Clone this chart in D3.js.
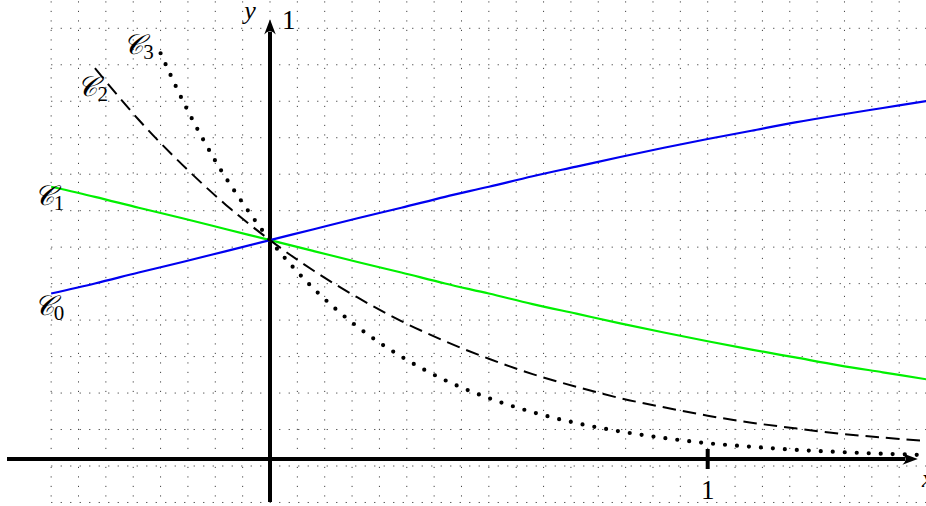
<!DOCTYPE html>
<html lang="en"><head><meta charset="utf-8">
<script src="https://cdn.jsdelivr.net/npm/d3@7"></script>
<style>
  body { margin: 0; background: #fff; }
  text { font-family: "Liberation Serif", "DejaVu Serif", serif; }
</style>
</head>
<body>
<script>
// curves (x, y in axis units)
var x01 = [-0.5,-0.4,-0.3,-0.2,-0.1,0,0.1,0.2,0.3,0.4,0.5,0.6,0.7,0.8,0.9,1.0,1.1,1.2,1.3,1.4,1.5];
var c0 = [0.378,0.401,0.426,0.450,0.475,0.5,0.525,0.550,0.574,0.599,0.622,0.646,0.668,0.690,0.711,0.731,0.750,0.769,0.786,0.802,0.818];
var c1 = [0.622,0.599,0.574,0.550,0.525,0.5,0.475,0.450,0.426,0.401,0.378,0.354,0.332,0.310,0.289,0.269,0.250,0.232,0.214,0.198,0.182];
var x2 = [-0.4,-0.3,-0.2,-0.1,0,0.1,0.2,0.3,0.4,0.5,0.6,0.7,0.8,0.9,1.0,1.1,1.2,1.3,1.4,1.5];
var c2 = [0.893,0.775,0.672,0.580,0.5,0.430,0.369,0.315,0.269,0.229,0.194,0.165,0.139,0.118,0.099,0.083,0.070,0.058,0.049,0.041];
var x3 = [-0.25,-0.2,-0.15,-0.1,0,0.1,0.2,0.3,0.4,0.5,0.6,0.7,0.8,0.9,1.0,1.1,1.2,1.3,1.4,1.5];
var c3 = [0.927,0.820,0.725,0.641,0.5,0.389,0.302,0.234,0.180,0.139,0.107,0.082,0.063,0.048,0.036,0.028,0.021,0.016,0.012,0.009];

var labels = [
  {name: "3", x: -0.335, y: 0.925},
  {name: "2", x: -0.44, y: 0.83},
  {name: "1", x: -0.54, y: 0.58},
  {name: "0", x: -0.54, y: 0.33}
];

var width = 926, height = 506;

var x = d3.scaleLinear().domain([0, 1]).range([270, 707.7]);
var y = d3.scaleLinear().domain([0, 1]).range([459, 21.3]);

var svg = d3.select("body").append("svg")
    .attr("width", width)
    .attr("height", height);

// dotted grid
var gx = d3.range(-8, 25).map(k => k / 16);
var gy = d3.range(0, 14).map(k => -0.016 + k / 12);
var grid = svg.append("g")
    .attr("stroke", "#444")
    .attr("stroke-width", 1)
    .attr("stroke-dasharray", "1.2,8.3");
grid.selectAll("line.v").data(gx).enter().append("line")
    .attr("x1", d => x(d)).attr("x2", d => x(d))
    .attr("y1", y(gy[gy.length - 1])).attr("y2", y(gy[0]) + 36.5);
grid.selectAll("line.h").data(gy.concat([gy[0] - 1 / 12])).enter().append("line")
    .attr("y1", d => y(d)).attr("y2", d => y(d))
    .attr("x1", x(gx[0])).attr("x2", width);

var defs = svg.append("defs");
defs.append("marker")
    .attr("id", "arr")
    .attr("viewBox", "0 0 12 10")
    .attr("refX", 2).attr("refY", 5)
    .attr("markerWidth", 4.3).attr("markerHeight", 3.2)
    .attr("markerUnits", "strokeWidth")
    .attr("orient", "auto")
    .append("path")
    .attr("d", "M0,0.5 Q5,5 0,9.5 L12,5 Z")
    .attr("fill", "#000");

// axes
svg.append("line")
    .attr("x1", 7).attr("x2", 905)
    .attr("y1", y(0)).attr("y2", y(0))
    .attr("stroke", "#000").attr("stroke-width", 4)
    .attr("marker-end", "url(#arr)");
svg.append("line")
    .attr("x1", x(0)).attr("x2", x(0))
    .attr("y1", 502).attr("y2", 32)
    .attr("stroke", "#000").attr("stroke-width", 4)
    .attr("marker-end", "url(#arr)");
svg.append("line")
    .attr("x1", x(1)).attr("x2", x(1))
    .attr("y1", y(0) - 10).attr("y2", y(0) + 10)
    .attr("stroke", "#000").attr("stroke-width", 4);

svg.append("text").attr("x", x(1)).attr("y", 499)
    .attr("text-anchor", "middle").attr("font-size", 27).text("1");
svg.append("text").attr("x", x(0) + 12).attr("y", 29)
    .attr("font-size", 27).text("1");
svg.append("text").attr("x", x(0) - 20).attr("y", 19)
    .attr("text-anchor", "middle").attr("font-size", 26)
    .attr("font-style", "italic").text("y");
svg.append("text").attr("x", 922).attr("y", 487)
    .attr("font-size", 25).attr("font-style", "italic").text("x");

// curves
var line = d3.line().curve(d3.curveCatmullRom)
    .x(d => x(d[0])).y(d => y(d[1]));
function pts(xs, ys) { return xs.map((v, i) => [v, ys[i]]); }

svg.append("path").attr("d", line(pts(x01, c1)))
    .attr("fill", "none").attr("stroke", "#00f000").attr("stroke-width", 2.2);
svg.append("path").attr("d", line(pts(x01, c0)))
    .attr("fill", "none").attr("stroke", "#0000f0").attr("stroke-width", 2.2);
svg.append("path").attr("d", line(pts(x2, c2)))
    .attr("fill", "none").attr("stroke", "#000").attr("stroke-width", 2)
    .attr("stroke-dasharray", "13.5,7");
svg.append("path").attr("d", line(pts(x3, c3)))
    .attr("fill", "none").attr("stroke", "#000").attr("stroke-width", 4.2)
    .attr("stroke-linecap", "round").attr("stroke-dasharray", "0,12");

// curve labels
var lab = svg.selectAll("text.lab").data(labels).enter().append("text")
    .attr("class", "lab")
    .attr("x", d => x(d.x)).attr("y", d => y(d.y))
    .attr("font-size", 28);
lab.append("tspan").attr("font-family", "DejaVu Serif").attr("font-style", "italic").text("\u{1D49E}");
lab.append("tspan").attr("font-size", 21).attr("dy", 5).text(d => d.name);
</script>
</body></html>
